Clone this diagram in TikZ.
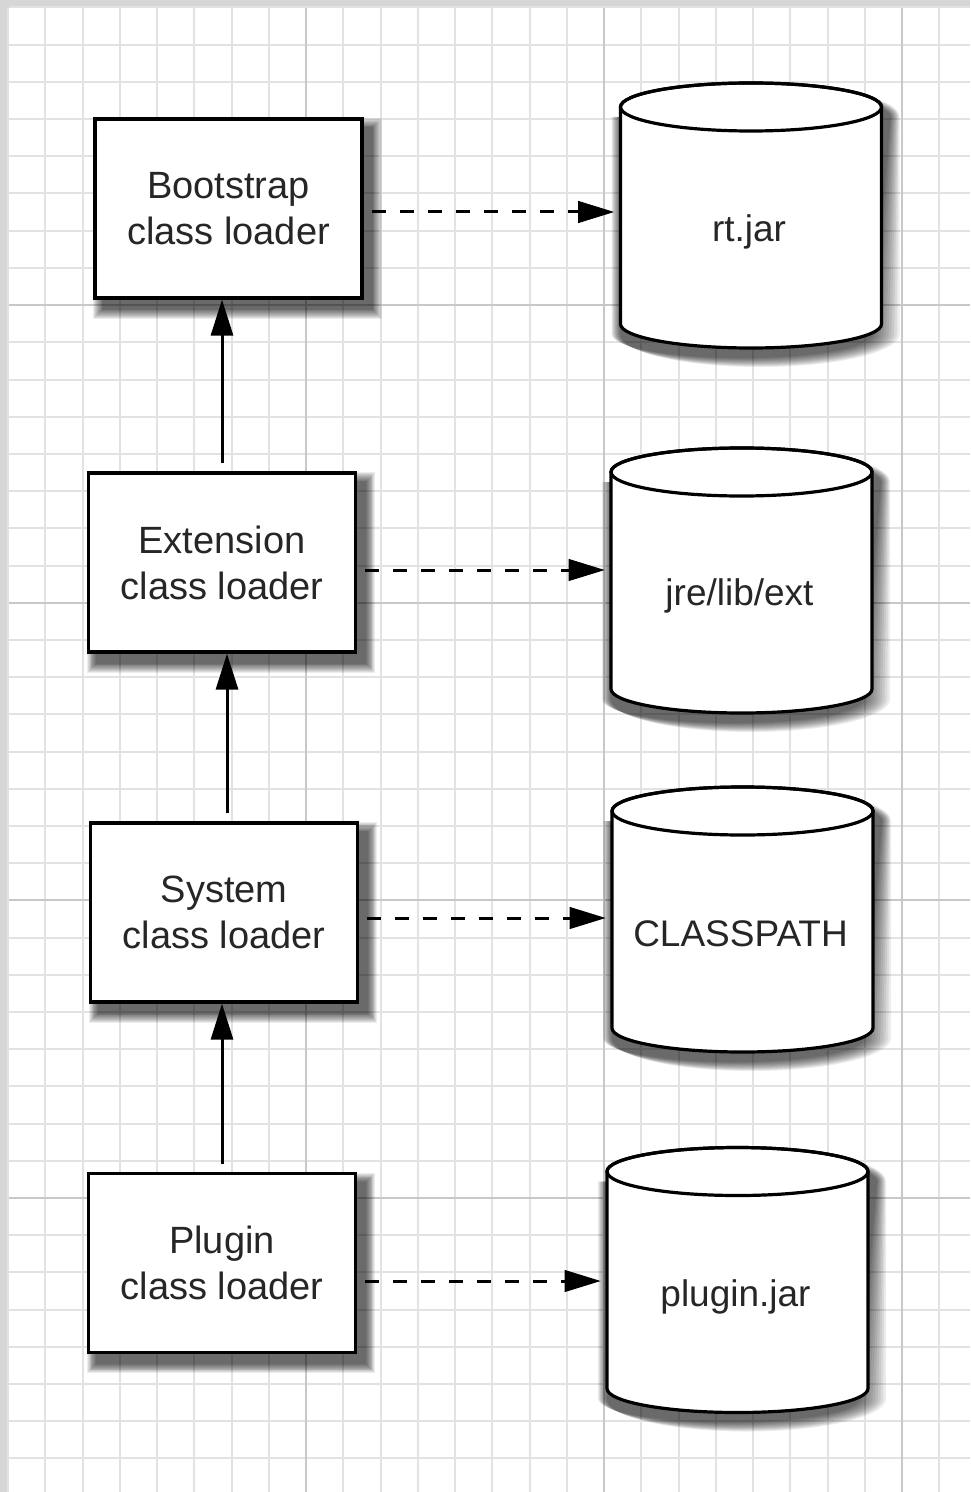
\documentclass[tikz,border=0pt]{standalone}
\usepackage{fontspec}
\setmainfont{Liberation Sans}
\usetikzlibrary{arrows.meta}
\pgfdeclarelayer{bg}
\pgfdeclarelayer{sh}
\pgfsetlayers{bg,sh,main}
\definecolor{finegrid}{RGB}{226,226,226}
\definecolor{majorgrid}{RGB}{200,200,200}
\definecolor{edgegray}{RGB}{214,214,214}
% cylinder outline: center x, center y, growth (px)
\newcommand\cylbody[3]{(#1-130.5-#3,#2-108.5) -- (#1-130.5-#3,#2+108.5) arc[start angle=180,end angle=360,x radius={(130.5+#3)/2*1pt},y radius={(24+#3)/2*1pt}] -- (#1+130.5+#3,#2-108.5) arc[start angle=0,end angle=180,x radius={(130.5+#3)/2*1pt},y radius={(24+#3)/2*1pt}] -- cycle}
\newcommand\cylshadow[2]{\foreach \k in {0,...,10}{\fill[black,opacity=0.075] \cylbody{#1+9}{#2+10}{9-0.9*\k};}}
\newcommand\boxshadow[1]{\foreach \k in {0,...,10}{\fill[black,opacity=0.075] ([xshift={4.5pt-(4.5-0.45*\k)*1pt},yshift={-5pt-(4.5-0.45*\k)*1pt}]#1.south west) rectangle ([xshift={4.5pt+(4.5-0.45*\k)*1pt},yshift={-5pt+(4.5-0.45*\k)*1pt}]#1.north east);}}
\tikzset{
  loaderbox/.style={draw=black, line width=1.6pt, fill=white, minimum width=133.5pt, minimum height=89.5pt,
    align=center, inner sep=0pt, font=\fontsize{19}{23}\selectfont, text=black!85},
  cylshape/.style={draw=black, line width=1.6pt, fill=white},
  cyltext/.style={minimum width=130.5pt, inner sep=0pt, font=\fontsize{18.5}{22}\selectfont, text=black!85},
  solidarrow/.style={draw=black, line width=1.5pt, -{Triangle[length=18pt,width=11pt,fill=black]}},
  dasharrow/.style={draw=black, line width=1.5pt, dash pattern=on 7pt off 7pt, -{Triangle[length=18pt,width=11pt,fill=black,line width=0.5pt]}, shorten >=2pt},
  finel/.style={draw=finegrid, line width=1pt},
  majorl/.style={draw=majorgrid, line width=1pt},
}
\begin{document}
\begin{tikzpicture}[x=0.5pt,y=-0.5pt]
\useasboundingbox (0,0) rectangle (970,1492);
\begin{pgfonlayer}{bg}
% page background
\fill[edgegray] (0,0) rectangle (970,1492);
\fill[white] (9,8) rectangle (970,1492);
% grid
\foreach \i in {0,...,26} {\draw[finel] ({8+37.25*\i},8) -- ({8+37.25*\i},1492);}
\foreach \j in {0,...,40} {\draw[finel] (9,{7.5+37.2*\j}) -- (970,{7.5+37.2*\j});}
\foreach \i in {1,2,3} {\draw[majorl] ({8+298*\i},8) -- ({8+298*\i},1492);}
\foreach \j in {1,...,4} {\draw[majorl] (9,{7.5+297.6*\j}) -- (970,{7.5+297.6*\j});}
\end{pgfonlayer}
% cylinders
\path[cylshape] \cylbody{751}{215.5}{0};
\draw[line width=1.6pt] (751,107) ellipse[x radius=65.25pt, y radius=12pt];
\path[cylshape] \cylbody{741.5}{580.5}{0};
\draw[line width=1.6pt] (741.5,472) ellipse[x radius=65.25pt, y radius=12pt];
\path[cylshape] \cylbody{742.5}{919.5}{0};
\draw[line width=1.6pt] (742.5,811) ellipse[x radius=65.25pt, y radius=12pt];
\path[cylshape] \cylbody{737.5}{1280}{0};
\draw[line width=1.6pt] (737.5,1171.5) ellipse[x radius=65.25pt, y radius=12pt];
\node[cyltext] (rt) at (749,232) {rt.jar};
\node[cyltext] (jre) at (739.5,596) {jre/lib/ext};
\node[cyltext] (cp) at (740.5,934) {CLASSPATH};
\node[cyltext] (pj) at (735.5,1297) {plugin.jar};
% loader boxes
\node[loaderbox] (boot) at (228.5,208.5) {Bootstrap\\class loader};
\node[loaderbox] (ext) at (222,562.5) {Extension\\class loader};
\node[loaderbox] (sys) at (224,912.5) {System\\class loader};
\node[loaderbox] (plug) at (222,1263) {Plugin\\class loader};
% shadows
\begin{pgfonlayer}{sh}
\cylshadow{751}{215.5}
\cylshadow{741.5}{580.5}
\cylshadow{742.5}{919.5}
\cylshadow{737.5}{1280}
\boxshadow{boot}
\boxshadow{ext}
\boxshadow{sys}
\boxshadow{plug}
\end{pgfonlayer}
% parent arrows
\draw[solidarrow] ([yshift=4pt]ext.north) -- (ext.north |- boot.south);
\draw[solidarrow] ([yshift=4pt,xshift=1.5pt]sys.north) -- ([xshift=1.5pt]sys.north |- ext.south);
\draw[solidarrow] ([yshift=4pt]plug.north) -- (plug.north |- sys.south);
% dashed arrows
\coordinate (b1) at ([xshift=4pt,yshift=-1.75pt]boot.east);
\coordinate (b2) at ([xshift=4pt,yshift=-3.75pt]ext.east);
\coordinate (b3) at ([xshift=4pt,yshift=-2.75pt]sys.east);
\coordinate (b4) at ([xshift=4pt,yshift=-9pt]plug.east);
\draw[dasharrow] (b1) -- (b1 -| rt.west);
\draw[dasharrow] (b2) -- (b2 -| jre.west);
\draw[dasharrow] (b3) -- (b3 -| cp.west);
\draw[dasharrow] (b4) -- (b4 -| pj.west);
\end{tikzpicture}
\end{document}
